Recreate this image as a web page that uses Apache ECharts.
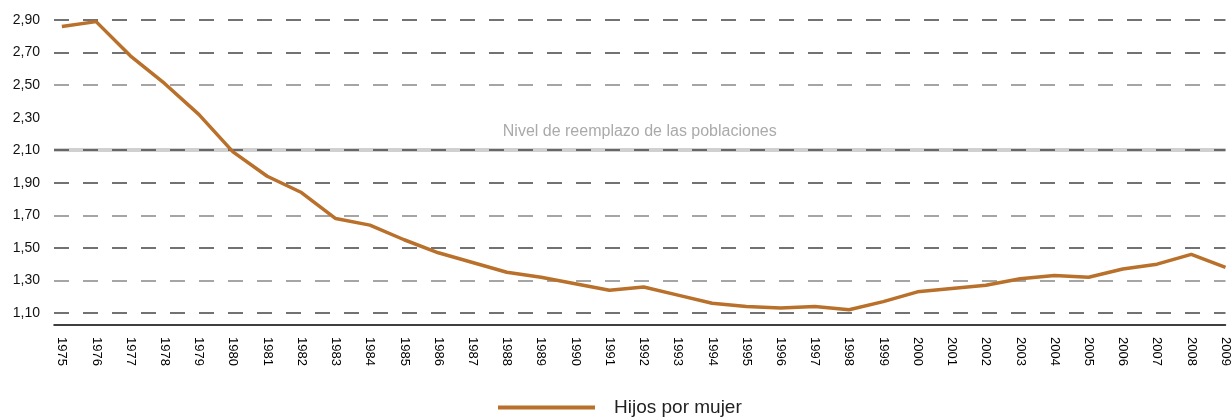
<!DOCTYPE html>
<html>
<head>
<meta charset="utf-8">
<script src="https://cdn.jsdelivr.net/npm/echarts@6/dist/echarts.min.js"></script>
<style>
  html, body { margin: 0; padding: 0; background: #fff; }
  #chart { width: 1232px; height: 418px; }
</style>
</head>
<body>
<div id="chart"></div>
<script>
// años y fecundidad (hijos por mujer)
var years = [1975, 1976, 1977, 1978, 1979, 1980, 1981, 1982, 1983, 1984, 1985, 1986,
    1987, 1988, 1989, 1990, 1991, 1992, 1993, 1994, 1995, 1996, 1997, 1998, 1999,
    2000, 2001, 2002, 2003, 2004, 2005, 2006, 2007, 2008, 2009];
var hijos = [2.86, 2.89, 2.68, 2.51, 2.32, 2.09, 1.94, 1.84, 1.68, 1.64, 1.55, 1.47,
    1.41, 1.35, 1.32, 1.28, 1.24, 1.26, 1.21, 1.16, 1.14, 1.13, 1.14, 1.12, 1.17,
    1.23, 1.25, 1.27, 1.31, 1.33, 1.32, 1.37, 1.40, 1.46, 1.38];
var reemplazo = 2.10;
var yTicks = [1.10, 1.30, 1.50, 1.70, 1.90, 2.10, 2.30, 2.50, 2.70, 2.90];

var font = '"Liberation Sans", Arial, sans-serif';
var xMin = 1974.77;

function showChart() {
    var myChart = echarts.init(document.getElementById('chart'));

    var points = [];
    for (var i = 0; i < years.length; i++) {
        points.push([years[i], hijos[i]]);
    }

    var option = {
        animation: false,
        grid: { left: 54, right: 0, top: 20, bottom: 105 },
        legend: {
            data: ['Hijos por mujer'],
            left: 493,
            top: 393,
            icon: 'rect',
            itemWidth: 97,
            itemHeight: 4,
            textStyle: { fontFamily: font, fontSize: 19, color: '#222', padding: [0, 0, 0, 14] }
        },
        xAxis: {
            type: 'value',
            min: xMin,
            max: years[years.length - 1],
            offset: 12,
            axisLine: { show: true, lineStyle: { color: '#000', width: 1.5 } },
            axisTick: { show: false },
            splitLine: { show: false },
            axisLabel: {
                customValues: years,
                rotate: -90,
                margin: 12,
                fontFamily: font,
                fontSize: 13,
                color: '#000',
                formatter: function (v) { return String(Math.round(v)); }
            }
        },
        yAxis: {
            type: 'value',
            min: yTicks[0],
            max: yTicks[yTicks.length - 1],
            interval: 0.2,
            axisLine: { show: false },
            axisTick: { show: false },
            axisLabel: {
                margin: 14,
                fontFamily: font,
                fontSize: 14,
                color: '#111',
                formatter: function (v) { return v.toFixed(2).replace('.', ','); }
            },
            splitLine: {
                show: true,
                lineStyle: {
                    color: ['#444', '#888', '#444', '#888', '#444', '#444',
                        'rgba(0,0,0,0)', '#888', '#444', '#444'],
                    width: 1.5,
                    type: [15, 14]
                }
            }
        },
        series: [{
            name: 'Hijos por mujer',
            type: 'line',
            data: points,
            symbol: 'none',
            color: '#b9702a',
            lineStyle: { width: 3.5, color: '#b9702a' }
        }, {
            // banda del nivel de reemplazo, debajo de la rejilla
            name: 'reemplazo',
            type: 'line',
            z: -1,
            data: points,
            symbol: 'none',
            silent: true,
            lineStyle: { opacity: 0 },
            markLine: {
                silent: true,
                z: -1,
                symbol: ['none', 'none'],
                data: [[
                    { coord: [xMin, reemplazo] },
                    { coord: [years[years.length - 1], reemplazo] }
                ]],
                lineStyle: { color: '#d0d0d0', width: 4, type: 'solid' },
                label: {
                    show: true,
                    position: 'middle',
                    distance: 11,
                    formatter: 'Nivel de reemplazo de las poblaciones',
                    fontFamily: font,
                    fontSize: 16,
                    color: '#aaa'
                }
            }
        }]
    };

    myChart.setOption(option);
}

window.onload = function () {
    showChart();
}
</script>
</body>
</html>
